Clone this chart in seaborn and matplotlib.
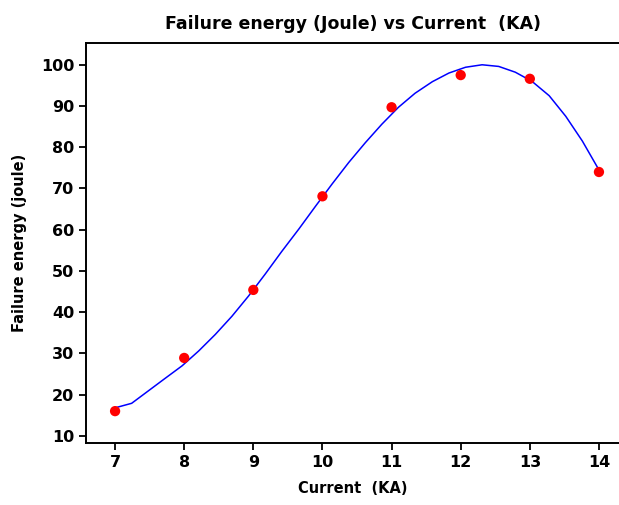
import matplotlib
matplotlib.use("Agg")
import matplotlib.pyplot as plt
import seaborn as sns
import pandas as pd

# Measured data points
current_ka = [7, 8, 9, 10, 11, 12, 13, 14]
energy_joule = [16.0, 28.9, 45.4, 68.1, 89.7, 97.5, 96.6, 74.0]

# Fitted curve
curve_x = [7.00, 7.24, 7.48, 7.72, 7.97, 8.21, 8.45, 8.69, 8.93, 9.17,
           9.41, 9.66, 9.90, 10.14, 10.38, 10.62, 10.86, 11.10, 11.34, 11.59,
           11.83, 12.07, 12.31, 12.55, 12.79, 13.03, 13.28, 13.52, 13.76, 14.00]
curve_y = [16.8, 17.9, 20.9, 23.9, 27.0, 30.6, 34.6, 39.0, 43.9, 49.2,
           54.7, 60.2, 65.7, 71.1, 76.3, 81.1, 85.6, 89.7, 93.1, 95.9,
           98.0, 99.4, 100.0, 99.6, 98.2, 96.0, 92.5, 87.5, 81.5, 74.5]

x_ticks = [7, 8, 9, 10, 11, 12, 13, 14]
y_ticks = [10, 20, 30, 40, 50, 60, 70, 80, 90, 100]

sns.set_style("ticks")
plt.rcParams['font.family'] = ['DejaVu Sans']
plt.rcParams['text.color'] = 'black'
plt.rcParams['axes.labelcolor'] = 'black'
plt.rcParams['xtick.color'] = 'black'
plt.rcParams['ytick.color'] = 'black'

fig = plt.figure(figsize=(6.19, 5.05), dpi=100)
ax = fig.add_axes([0.139, 0.123, 0.861, 0.792])

pts = pd.DataFrame({"x": current_ka, "y": energy_joule})
crv = pd.DataFrame({"x": curve_x, "y": curve_y})

sns.lineplot(data=crv, x="x", y="y", ax=ax, color="#0000ff", linewidth=1.1, sort=False)
sns.scatterplot(data=pts, x="x", y="y", ax=ax, color="#ff0000", s=55,
                edgecolor="none", zorder=3)

ax.set_xlim(6.58, 14.29)
ax.set_ylim(8.3, 105.3)
ax.set_xticks(x_ticks)
ax.set_yticks(y_ticks)
ax.tick_params(axis="both", direction="out", length=5, width=1.3,
               labelsize=11.5, color="black", labelcolor="black")
for lab in ax.get_xticklabels() + ax.get_yticklabels():
    lab.set_fontweight("bold")

for side in ["left", "bottom", "top"]:
    ax.spines[side].set_visible(True)
    ax.spines[side].set_linewidth(1.4)
    ax.spines[side].set_color("black")
ax.spines["right"].set_visible(False)

ax.set_xlabel("Current  (KA)", fontsize=10.5, fontweight="bold", labelpad=8, color="black")
ax.set_ylabel("Failure energy (joule)", fontsize=10.5, fontweight="bold", labelpad=10, color="black")
ax.set_title("Failure energy (Joule) vs Current  (KA)", fontsize=12.5,
             fontweight="bold", pad=10, color="black")

fig.savefig("out.png", dpi=100)
